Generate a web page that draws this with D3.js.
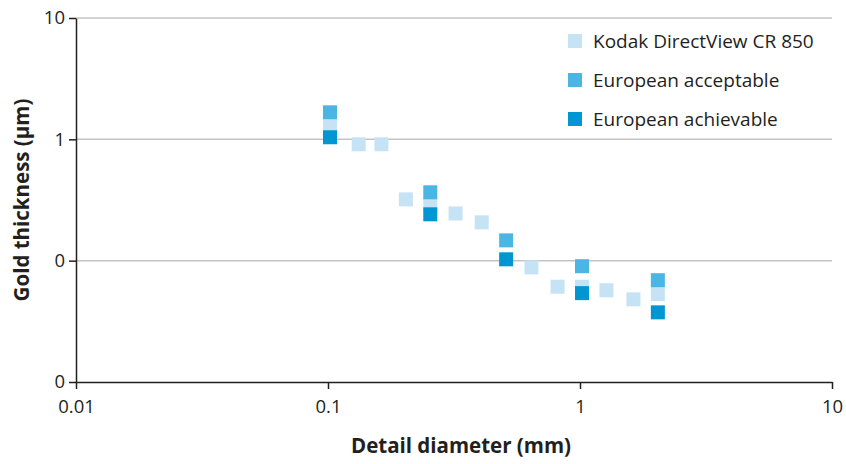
<!DOCTYPE html>
<html>
<head>
<meta charset="utf-8">
<script src="https://cdn.jsdelivr.net/npm/d3@7"></script>
<style>
  html, body { margin: 0; padding: 0; background: #fff; }
  svg { display: block; }
</style>
</head>
<body>
<svg id="chart" width="846" height="464"></svg>
<script>
// Detail diameter (mm) and gold thickness (µm) for each series
const kodakX = [0.1, 0.13, 0.16, 0.2, 0.25, 0.315, 0.4, 0.63, 0.8, 1, 1.25, 1.6, 2];
const kodakY = [1.28, 0.91, 0.91, 0.32, 0.29, 0.245, 0.207, 0.088, 0.061, 0.061, 0.057, 0.048, 0.053];
const acceptableX = [0.1, 0.25, 0.5, 1, 2];
const acceptableY = [1.67, 0.366, 0.147, 0.09, 0.069];
const achievableX = [0.1, 0.25, 0.5, 1, 2];
const achievableY = [1.04, 0.241, 0.1026, 0.054, 0.0375];

const seriesNames = ["Kodak DirectView CR 850", "European acceptable", "European achievable"];
const seriesColors = ["#c5e3f4", "#4bb6e3", "#0096d2"];

const xTicks = [0.01, 0.1, 1, 10];
const xTickLabels = ["0.01", "0.1", "1", "10"];
const yTicks = [10, 1, 0.1, 0.01];
const yTickLabels = ["10", "1", "0", "0"];

const xTitle = "Detail diameter (mm)";
const yTitle = "Gold thickness (µm)";

const svg = d3.select("#chart");
const font = "'Open Sans', 'Noto Sans', sans-serif";
const ink = "#231f20";

const x = d3.scaleLog().domain([0.01, 10]).range([76, 832]);
const y = d3.scaleLog().domain([0.01, 10]).range([382, 18]);

// Horizontal gridlines
svg.append("g")
  .selectAll("line")
  .data(yTicks.filter(v => v > 0.01))
  .join("line")
  .attr("x1", x(0.01)).attr("x2", x(10))
  .attr("y1", d => y(d)).attr("y2", d => y(d))
  .attr("stroke", "#c4c4c6").attr("stroke-width", 1.5);

// X axis
const xAxis = d3.axisBottom(x)
  .tickValues(xTicks)
  .tickFormat((d, i) => xTickLabels[i])
  .tickSize(7)
  .tickSizeOuter(0);
const gx = svg.append("g")
  .attr("transform", `translate(0,${y(0.01)})`)
  .call(xAxis);
gx.select(".domain").attr("stroke", ink).attr("stroke-width", 1.5);
gx.selectAll(".tick line").attr("stroke", ink).attr("stroke-width", 1.5);
gx.selectAll(".tick text")
  .attr("font-family", font).attr("font-size", 18.5).attr("fill", ink)
  .attr("y", 12)
  .attr("dy", "1em");

// Y axis
const yAxis = d3.axisLeft(y)
  .tickValues(yTicks)
  .tickFormat((d, i) => yTickLabels[i])
  .tickSize(7)
  .tickSizeOuter(0);
const gy = svg.append("g")
  .attr("transform", `translate(${x(0.01)},0)`)
  .call(yAxis);
gy.select(".domain").attr("stroke", ink).attr("stroke-width", 1.5);
gy.selectAll(".tick line").attr("stroke", ink).attr("stroke-width", 1.5);
gy.selectAll(".tick text")
  .attr("font-family", font).attr("font-size", 18.5).attr("fill", ink)
  .attr("x", -11);

// Markers: light series first, darker series on top
const series = [
  { xs: kodakX, ys: kodakY },
  { xs: acceptableX, ys: acceptableY },
  { xs: achievableX, ys: achievableY }
];
const size = 14;
series.forEach((s, i) => {
  svg.append("g")
    .selectAll("rect")
    .data(s.xs.map((v, j) => [v, s.ys[j]]))
    .join("rect")
    .attr("x", d => x(d[0]) - size / 2 + 2)
    .attr("y", d => y(d[1]) - size / 2)
    .attr("width", size).attr("height", size)
    .attr("fill", seriesColors[i]);
});

// Legend
const legend = svg.append("g");
seriesNames.forEach((name, i) => {
  const cy = 41 + i * 39;
  legend.append("rect")
    .attr("x", 568).attr("y", cy - 7)
    .attr("width", 14).attr("height", 14)
    .attr("fill", seriesColors[i]);
  legend.append("text")
    .attr("x", 593).attr("y", cy)
    .attr("dy", "0.35em")
    .attr("font-family", font).attr("font-size", 19).attr("fill", ink)
    .text(name);
});

// Axis titles
svg.append("text")
  .attr("x", 461).attr("y", 453)
  .attr("text-anchor", "middle")
  .attr("font-family", font).attr("font-size", 20.5).attr("font-weight", "bold")
  .attr("fill", ink)
  .text(xTitle);

svg.append("text")
  .attr("transform", `translate(29,200) rotate(-90)`)
  .attr("text-anchor", "middle")
  .attr("font-family", font).attr("font-size", 20.5).attr("font-weight", "bold")
  .attr("fill", ink)
  .text(yTitle);
</script>
</body>
</html>
